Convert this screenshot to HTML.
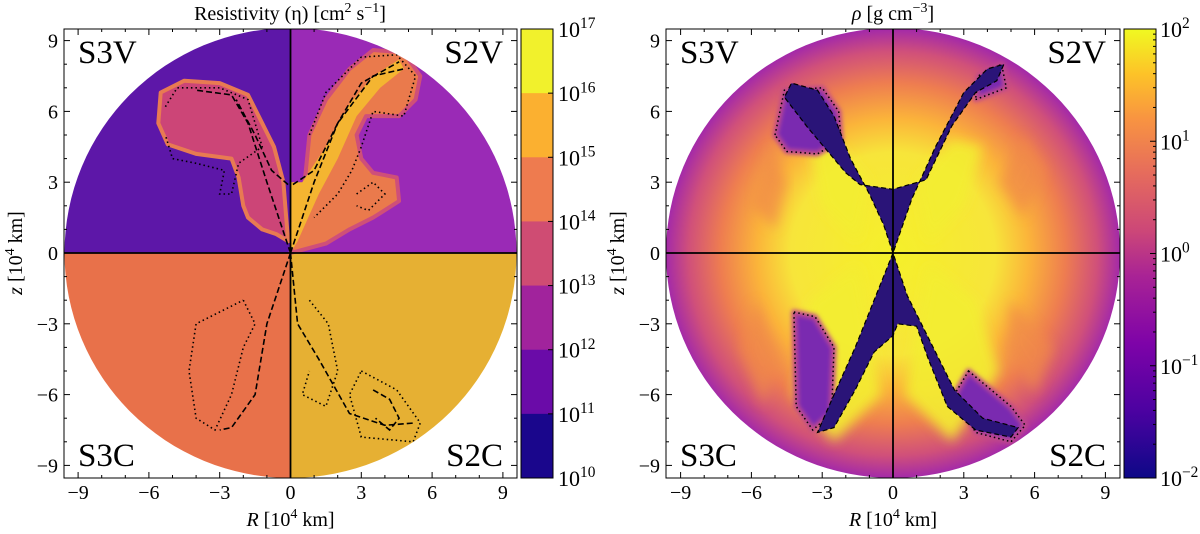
<!DOCTYPE html>
<html><head><meta charset="utf-8"><style>
body{margin:0;background:#fff;}
svg{display:block;font-family:"Liberation Serif",serif;}
</style></head><body>
<svg id="fig" width="1200" height="534" viewBox="0 0 1200 534" xmlns="http://www.w3.org/2000/svg">
<defs>
<radialGradient id="rhoBg" cx="0.5" cy="0.5" r="0.5">
<stop offset="0" stop-color="#f5f02a"/><stop offset="0.45" stop-color="#f7e53a"/>
<stop offset="0.6" stop-color="#fbb43a"/><stop offset="0.76" stop-color="#ee7d50"/>
<stop offset="0.9" stop-color="#d0507a"/><stop offset="1" stop-color="#a42aa8"/>
</radialGradient>
<linearGradient id="plasmaBar" x1="0" y1="1" x2="0" y2="0">
<stop offset="0" stop-color="#0d0887"/><stop offset="0.15" stop-color="#4c02a1"/>
<stop offset="0.3" stop-color="#7e03a8"/><stop offset="0.45" stop-color="#a92395"/>
<stop offset="0.55" stop-color="#cc4778"/><stop offset="0.68" stop-color="#e66c5c"/>
<stop offset="0.8" stop-color="#f89441"/><stop offset="0.9" stop-color="#fdc328"/>
<stop offset="1" stop-color="#f0f921"/>
</linearGradient>
<filter id="soft" x="-20%" y="-20%" width="140%" height="140%"><feGaussianBlur stdDeviation="6"/></filter>
<filter id="soft2" x="-20%" y="-20%" width="140%" height="140%"><feGaussianBlur stdDeviation="2"/></filter>
<clipPath id="clipL"><ellipse cx="290.5" cy="253" rx="226" ry="225"/></clipPath>
<clipPath id="clipR"><ellipse cx="893" cy="253" rx="227" ry="225"/></clipPath>
</defs>
<g id="root"></g>
</svg>
<script>
const NS="http://www.w3.org/2000/svg";
const root=document.getElementById('root');
const tickVals=[-9,-6,-3,0,3,6,9];
const etaExps=[17,16,15,14,13,12,11,10];
const etaColors=["#f1f12c","#fbb030","#ee7b4f","#cf4c73","#a1239c","#6a0ba8","#1a068c"];
const rhoExps=[2,1,0,-1,-2];
const quadColors=["#5d17a8","#9a2ab6","#e8714a","#e6b033"];
// left-panel regions (R, z in 1e4 km)
const pinkBlob=[[-5.5,6.8],[-4.5,7.3],[-3,7.2],[-1.8,6.7],[-1.2,5.5],[-0.7,4.5],[-0.3,3],[-0.1,0.5],[-0.6,0.8],[-1.2,1],[-1.8,1.5],[-2,2],[-2.2,3.2],[-2.5,4],[-4,4.2],[-5.2,4.6],[-5.6,5.5]];
const coralBlob=[[0,0],[0.5,2],[0.8,5],[1.5,6.5],[2.5,7.8],[3.5,8.6],[4.8,8.5],[5.5,7.5],[5.3,6.5],[4.6,5.8],[3.2,5.8],[2.8,5],[3,4],[3.5,3.4],[4.5,3.2],[4.6,2.2],[3.5,1.5],[2.5,1],[1.5,0.4]];
const yellowStreak=[[0,3],[0.5,3],[1.5,4.5],[2.5,6.3],[3.5,7.5],[4.6,8.2],[4.8,7.8],[3.8,7],[2.8,5.8],[2,4],[1.2,2.5],[0.3,0.5],[0,0]];
const dashLines=[
 [[0,0],[-1,3],[-1.8,5.5],[-2.5,6.7],[-4,6.9]],
 [[-0.1,2.9],[-0.8,3.5],[-1.5,5],[-2.3,6.5]],
 [[0,0],[1,3],[2,5.5],[3,7.2],[4.6,8.1]],
 [[0.1,2.9],[1,3.5],[2,5.5],[3.5,7.5],[4.8,7.8]],
 [[0,0],[-1,-3],[-1.5,-6],[-2.5,-7.4],[-3,-7.5]],
 [[0,0],[0.3,-3],[1.2,-4.5],[2.5,-6.8],[4,-7.3],[5.3,-7.2]],
 [[3.5,-5.8],[4.2,-6.2],[4.6,-7],[4.2,-7.5],[3.6,-7]]];
const dotLines=[
 [[-5.3,6.2],[-4.8,7],[-3,7],[-1.8,6.5],[-1.2,4.5],[-2.2,3.8],[-2.5,2.5],[-3,2.5],[-2.8,3.5],[-4,3.8],[-5,4],[-5.3,5]],
 [[0.8,5],[1.5,6.8],[3,8.3],[4.5,8.4],[5.3,7.5],[4.8,5.8],[3.5,6],[3,4.5],[2.6,3.5],[2,2.5],[1,1.5]],
 [[2.8,2.5],[3.5,3],[4,2.5],[3.3,1.8],[2.8,2]],
 [[-2,-2],[-1.5,-3],[-2,-4],[-2.5,-6],[-3.2,-7.5],[-4,-7],[-4.3,-5],[-4,-3],[-3,-2.5],[-2,-2]],
 [[3,-5],[4.5,-5.8],[5.5,-7.2],[5.2,-8],[3,-7.8],[2.5,-6],[3,-5]],
 [[0.8,-2],[1.6,-3],[2,-5],[1.5,-6.5],[0.5,-6],[0.8,-5]]];
// right-panel regions
const navyTop=[[0,0],[-0.4,1.2],[-1,2.5],[-1.8,4],[-2.5,5.8],[-3.2,6.9],[-4.3,7.2],[-4.6,6.6],[-3.6,5.3],[-2,3.4],[-1.4,2.9],[0,2.7],[1.4,3.1],[2.5,5.4],[3.5,6.8],[4.4,7.3],[4.7,8],[4,7.8],[3,6.8],[1.8,4.5],[0.8,2.3]];
const navyBot=[[0,0],[-0.8,-2],[-1.6,-4],[-2.5,-6],[-3.2,-7.6],[-2.5,-7.4],[-1.6,-5.8],[-0.8,-4.2],[0,-3.5],[0.2,-3],[1,-3.1],[1.5,-4.5],[2.3,-6.5],[3.5,-7.5],[5,-7.8],[5.3,-7.4],[3.8,-7],[2.6,-5.8],[1.6,-3.8],[0.6,-1.8]];
const purpleBlobs=[
 [[-5,5],[-4.6,6.9],[-3,7],[-2.3,6],[-2.2,4.8],[-3.2,4.2],[-4.5,4.3]],
 [[-4.2,-2.5],[-3.3,-2.7],[-2.5,-4],[-2.6,-6.8],[-3.4,-7.5],[-4.1,-6.5]],
 [[3.2,-5],[5,-6.5],[5.6,-7.3],[5,-8],[3.5,-7.6],[2.6,-6]],
 [[3.5,6.5],[4.8,7],[4.6,8],[3.6,7.5]]];
const yellowLobes=[
 [[-1.5,0.5],[-3,2],[-3.5,4.5],[-2.5,4.8],[-1,3]],
 [[1.5,0.5],[3,2],[3.8,4.5],[2.5,4.8],[1,3]],
 [[-1.5,-0.5],[-3.5,-2],[-4.2,-6],[-2.5,-8],[-0.5,-6]],
 [[1.5,-0.5],[3.5,-2],[4.5,-5],[2.5,-8],[0.5,-6]]];
const orangeLobes=[
 [[-6,2],[-5.2,4.5],[-4.5,3],[-5,1]],
 [[5.5,1.5],[6.5,3.5],[5.5,5],[4.5,3]],
 [[-5.8,-2],[-4.8,-4.5],[-5.5,-6.5],[-6.5,-4]],
 [[5,-2],[6.8,-4],[6,-6],[4.8,-4]]];

function el(tag,attrs,parent){const e=document.createElementNS(NS,tag);for(const k in attrs)e.setAttribute(k,attrs[k]);(parent||root).appendChild(e);return e;}
function mkAxis(cx){const s=23.6;return {x:u=>cx+u*s,y:v=>253-v*s};}
function pathFrom(pts,ax,close){return pts.map((p,i)=>(i?'L':'M')+ax.x(p[0]).toFixed(1)+' '+ax.y(p[1]).toFixed(1)).join(' ')+(close?' Z':'');}
function sup(t,base,exp,x,y,anchor,size){
 const e=el('text',{x:x,y:y,'font-size':size,'text-anchor':anchor||'start'},t);
 e.appendChild(document.createTextNode(base));
 const s=document.createElementNS(NS,'tspan');s.setAttribute('dy',-size*0.4);s.setAttribute('font-size',size*0.7);s.textContent=exp;e.appendChild(s);return e;}

function panel(box,name){
 const cx=(box[0]+box[1])/2;const ax=mkAxis(cx);
 const g=el('g',{});
 
 
 return {g,ax,cx};
}
// ---------- LEFT ----------
(function(){
 const box=[64,517];const P=panel(box,'resistivity');const ax=P.ax;const g=P.g;
 const cg=el('g',{'clip-path':'url(#clipL)'},g);
 
 
 const qs=[[box[0],29],[P.cx,29],[box[0],253],[P.cx,253]];
 qs.forEach((q,i)=>{const r=el('rect',{x:q[0],y:q[1],width:P.cx-box[0]+1,height:226,fill:quadColors[i]},cg);
  
  });
 let b=el('path',{d:pathFrom(pinkBlob,ax,true),fill:'#cc4577',stroke:'#e87a52','stroke-width':4,'stroke-linejoin':'round'},cg);
 
 
 b=el('path',{d:pathFrom(coralBlob,ax,true),fill:'#ea7a4c',stroke:'#cf4f79','stroke-width':4,'stroke-linejoin':'round'},cg);
 
 
 b=el('path',{d:pathFrom(yellowStreak,ax,true),fill:'#f4b531'},cg);
 
 
 dashLines.forEach(l=>{const p=el('path',{d:pathFrom(l,ax,false),fill:'none',stroke:'#000','stroke-width':1.6,'stroke-dasharray':'6 3'},cg);
  
  });
 dotLines.forEach(l=>{const p=el('path',{d:pathFrom(l,ax,false),fill:'none',stroke:'#000','stroke-width':1.6,'stroke-dasharray':'1.5 3'},cg);
  
  });
 axes(box,ax,P.cx,g,'left');
 const cb=[521,553];const h=(478-29)/7;
 etaColors.forEach((c,i)=>{const r=el('rect',{x:cb[0],y:29+i*h,width:cb[1]-cb[0],height:h+0.5,fill:c},g);
  
  });
 el('rect',{x:cb[0],y:29,width:cb[1]-cb[0],height:449,fill:'none',stroke:'#000','stroke-width':1},g);
 etaExps.forEach((e,i)=>{const y=29+i*h;el('line',{x1:cb[1]-5,x2:cb[1],y1:y,y2:y,stroke:'#000'},g);
  const t=sup(g,'10',String(e),558,y+8,'start',22);
  
  });
 const ti=sup(g,'Resistivity (η) [cm','2',290,20,'middle',20);
 const s2=document.createElementNS(NS,'tspan');s2.setAttribute('dy',8);s2.textContent=' s';ti.appendChild(s2);
 const s3=document.createElementNS(NS,'tspan');s3.setAttribute('dy',-8);s3.setAttribute('font-size',14);s3.textContent='−1';ti.appendChild(s3);
 const s4=document.createElementNS(NS,'tspan');s4.setAttribute('dy',8);s4.textContent=']';ti.appendChild(s4);
 
 
})();
// ---------- RIGHT ----------
(function(){
 const box=[666,1120];const P=panel(box,'density');const ax=P.ax;const g=P.g;
 const cg=el('g',{'clip-path':'url(#clipR)'},g);
 
 
 el('rect',{x:box[0],y:29,width:box[1]-box[0],height:449,fill:'url(#rhoBg)'},cg);
 orangeLobes.forEach(l=>{const p=el('path',{d:pathFrom(l,ax,true),fill:'#f08a48',opacity:0.7,filter:'url(#soft)'},cg);
  
  });
 yellowLobes.forEach(l=>{const p=el('path',{d:pathFrom(l,ax,true),fill:'#f3ee30',opacity:0.9,filter:'url(#soft)'},cg);
  
  });
 purpleBlobs.forEach(l=>{const p=el('path',{d:pathFrom(l,ax,true),fill:'#7a2ab0',stroke:'#c04a8a','stroke-width':5,'stroke-linejoin':'round',filter:'url(#soft2)'},cg);
  
  
  el('path',{d:pathFrom(l,ax,true),fill:'none',stroke:'#000','stroke-width':1.5,'stroke-dasharray':'1.5 3'},cg);});
 [navyTop,navyBot].forEach(l=>{const p=el('path',{d:pathFrom(l,ax,true),fill:'#2a1478',stroke:'#000','stroke-width':1.2,'stroke-dasharray':'5 3'},cg);
  
  });
 axes(box,ax,P.cx,g,'right');
 const cb=[1124,1156];
 const r=el('rect',{x:cb[0],y:29,width:cb[1]-cb[0],height:449,fill:'url(#plasmaBar)',stroke:'#000','stroke-width':1},g);
 
 
 const h=449/(rhoExps.length-1);
 rhoExps.forEach((e,i)=>{const y=29+i*h;el('line',{x1:cb[1]-6,x2:cb[1],y1:y,y2:y,stroke:'#000'},g);
  if(i<rhoExps.length-1)for(let m=2;m<10;m++){const yy=y+h-Math.log10(m)*h;el('line',{x1:cb[1]-3,x2:cb[1],y1:yy,y2:yy,stroke:'#000'},g);}
  const t=sup(g,'10',e<0?'−'+(-e):String(e),1160,y+8,'start',22);
  
  });
 const t=el('text',{x:893,y:20,'font-size':20,'text-anchor':'middle'},g);
 t.innerHTML='<tspan font-style="italic">ρ</tspan> [g cm<tspan dy="-8" font-size="14">−3</tspan><tspan dy="8">]</tspan>';
 
 
})();

function axes(box,ax,cx,g,side){
 el('line',{x1:box[0],x2:box[1],y1:253,y2:253,stroke:'#000','stroke-width':1.8},g);
 el('line',{x1:cx,x2:cx,y1:29,y2:478,stroke:'#000','stroke-width':1.8},g);
 const fr=el('rect',{x:box[0],y:29,width:box[1]-box[0],height:449,fill:'none',stroke:'#000','stroke-width':1},g);
 
 
 for(let v=-9;v<=9;v++){const L=(v%3===0)?6:3;
  const x=ax.x(v),y=ax.y(v);
  el('line',{x1:x,x2:x,y1:478,y2:478-L,stroke:'#000'},g);el('line',{x1:x,x2:x,y1:29,y2:29+L,stroke:'#000'},g);
  el('line',{x1:box[0],x2:box[0]+L,y1:y,y2:y,stroke:'#000'},g);el('line',{x1:box[1],x2:box[1]-L,y1:y,y2:y,stroke:'#000'},g);}
 tickVals.forEach(v=>{const lab=v<0?'−'+(-v):String(v);
  const tx=el('text',{x:ax.x(v),y:499,'font-size':20,'text-anchor':'middle'},g);tx.textContent=lab;
  
  
  const ty=el('text',{x:box[0]-6,y:ax.y(v)+7,'font-size':20,'text-anchor':'end'},g);ty.textContent=lab;
  
  });
 const xl=el('text',{x:cx,y:526,'font-size':20,'text-anchor':'middle'},g);
 xl.innerHTML='<tspan font-style="italic">R</tspan> [10<tspan dy="-8" font-size="14">4</tspan><tspan dy="8"> km]</tspan>';
 
 
 const yx=box[0]-42;
 const yl=el('text',{x:0,y:0,'font-size':20,'text-anchor':'middle',transform:'translate('+yx+',253) rotate(-90)'},g);
 yl.innerHTML='<tspan font-style="italic">z</tspan> [10<tspan dy="-8" font-size="14">4</tspan><tspan dy="8"> km]</tspan>';
 
 
 const labs=[['S3V',box[0]+14,63,'start'],['S2V',box[1]-14,63,'end'],['S3C',box[0]+14,466,'start'],['S2C',box[1]-14,466,'end']];
 labs.forEach(l=>{const t=el('text',{x:l[1],y:l[2],'font-size':33,'text-anchor':l[3]},g);t.textContent=l[0];
  
  });
}
</script>
</body></html>
